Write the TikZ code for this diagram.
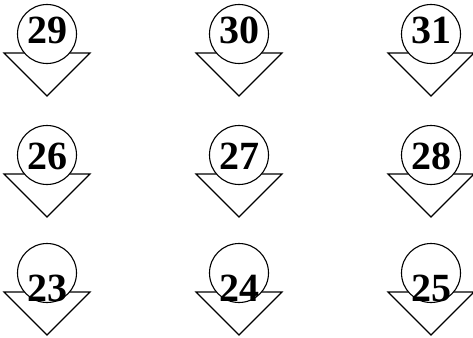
\documentclass[tikz,border=0pt]{standalone}
\usepackage{fontspec}
\setmainfont{Liberation Serif}
\tikzset{
  ball/.style={circle,draw,fill=white,minimum size=59pt,inner sep=0pt},
  num/.style={font=\bfseries\fontsize{40}{40}\selectfont,inner sep=0pt}
}
\begin{document}
\begin{tikzpicture}[x=1pt,y=-1pt,line width=1.1pt]
  \useasboundingbox (0,0) rectangle (473,337);
  \foreach \n/\cx/\cy/\dy in {29/47/34/-4,30/239/34/-4,31/431/34/-4,
      26/47/155/1,27/239/155/1,28/431/155/1,
      23/47/273/15,24/239/273/15,25/431/273/15}{
    \draw (\cx-43,\cy+19) -- (\cx+43,\cy+19) -- (\cx,\cy+62) -- cycle;
    \node[ball] (b\n) at (\cx,\cy) {};
    \node[num] (t\n) at (\cx,\cy+\dy) {\n};}
\end{tikzpicture}
\end{document}
